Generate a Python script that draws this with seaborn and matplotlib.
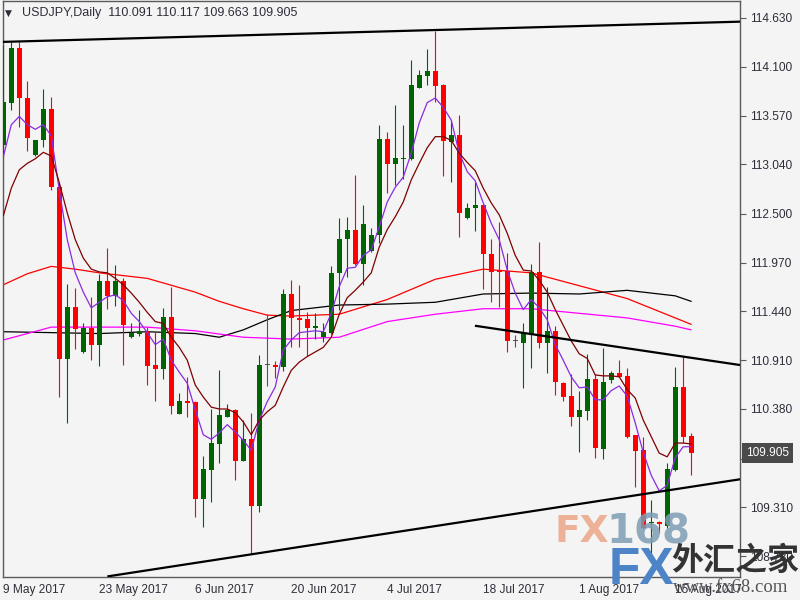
import matplotlib
matplotlib.use('Agg')
import matplotlib.pyplot as plt
import matplotlib.transforms as mtransforms
import numpy as np
import seaborn as sns

# USDJPY daily candles, bar 0 = 9 May 2017
opens = [113.250, 113.703, 114.307, 113.764, 113.141, 113.304, 113.641, 112.796, 110.920, 111.485,
         111.003, 111.260, 111.079, 111.771, 111.612, 111.771, 111.166, 111.198, 111.228, 110.858,
         110.818, 111.380, 110.329, 110.467, 110.453, 109.398, 109.720, 110.003, 110.296, 110.369,
         109.818, 110.054, 109.329, 110.858, 110.858, 110.840, 111.630, 111.366, 111.355, 111.264,
         111.159, 111.209, 111.858, 112.228, 112.326, 111.953, 112.101, 112.271, 113.315, 113.043,
         113.101, 113.097, 113.872, 114.003, 114.054, 113.902, 113.285, 113.358, 112.451, 112.562,
         112.594, 112.062, 111.888, 111.877, 111.122, 111.094, 111.192, 111.869, 111.101, 111.228,
         110.663, 110.521, 110.288, 110.355, 110.706, 109.949, 110.695, 110.775, 110.739, 110.097,
         109.934, 109.138, 109.155, 109.112, 109.717, 110.616, 110.091]
highs = [114.337, 114.372, 114.372, 113.945, 113.304, 113.855, 113.775, 112.840, 111.739, 111.692,
         111.312, 111.597, 111.847, 112.127, 111.945, 111.807, 111.312, 111.456, 111.275, 111.214,
         111.475, 111.709, 110.551, 110.731, 110.470, 109.869, 110.380, 110.804, 110.434, 110.380,
         110.260, 110.333, 110.967, 111.413, 110.902, 111.684, 111.782, 111.728, 111.434, 111.420,
         111.312, 111.934, 112.456, 112.470, 112.923, 112.597, 112.344, 113.467, 113.391, 113.684,
         113.467, 114.173, 114.065, 114.293, 114.489, 113.910, 113.521, 113.576, 112.619, 112.851,
         112.600, 112.225, 112.409, 112.072, 111.184, 111.318, 111.956, 112.192, 111.703, 111.282,
         110.670, 110.755, 110.581, 110.978, 110.758, 111.040, 110.796, 110.913, 110.822, 110.100,
         110.079, 109.391, 109.160, 109.796, 110.840, 110.948, 110.117]
lows = [113.119, 113.630, 113.448, 113.188, 113.130, 113.225, 112.760, 110.514, 110.225, 111.029,
        110.992, 110.913, 110.851, 111.464, 111.503, 110.858, 111.148, 111.177, 110.641, 110.470,
        110.703, 110.322, 110.329, 110.296, 109.209, 109.101, 109.366, 109.796, 110.290, 109.608,
        109.810, 108.801, 109.257, 110.633, 110.714, 110.796, 111.057, 111.057, 110.956, 111.138,
        111.112, 111.200, 111.456, 111.818, 111.945, 111.728, 112.090, 112.188, 112.725, 112.815,
        112.877, 113.090, 113.865, 113.902, 113.714, 112.916, 112.851, 112.246, 112.445, 112.318,
        111.681, 111.540, 111.485, 111.003, 111.057, 110.605, 110.822, 111.040, 110.768, 110.532,
        110.470, 110.198, 109.909, 110.264, 109.842, 109.833, 110.659, 110.725, 110.062, 109.535,
        109.080, 108.709, 109.029, 109.083, 109.710, 110.014, 109.663]
closes = [113.720, 114.307, 113.757, 113.329, 113.304, 113.641, 112.796, 110.920, 111.485, 111.253,
          111.260, 111.079, 111.771, 111.612, 111.771, 111.296, 111.209, 111.228, 110.851, 110.818,
          111.380, 110.416, 110.467, 110.445, 109.398, 109.728, 110.010, 110.315, 110.369, 109.818,
          110.054, 109.329, 110.858, 110.858, 110.833, 111.630, 111.366, 111.351, 111.264, 111.279,
          111.220, 111.858, 112.228, 112.326, 111.953, 112.391, 112.271, 113.315, 113.043, 113.112,
          113.112, 113.902, 114.010, 114.054, 113.894, 113.296, 113.358, 112.514, 112.562, 112.594,
          112.062, 111.872, 111.866, 111.116, 111.122, 111.203, 111.869, 111.101, 111.228, 110.677,
          110.514, 110.288, 110.369, 110.706, 109.951, 110.673, 110.775, 110.731, 110.079, 109.927,
          109.090, 109.152, 109.127, 109.728, 110.616, 110.079, 109.905]

# fast (purple) and medium (maroon) moving averages, one value per bar
ma_fast = [113.12, 113.47, 113.56, 113.47, 113.42, 113.47, 113.35, 112.76, 112.22, 111.86,
           111.65, 111.48, 111.54, 111.60, 111.62, 111.56, 111.42, 111.33, 111.21, 111.08,
           111.14, 110.91, 110.78, 110.66, 110.37, 110.10, 110.05, 110.12, 110.21, 110.13,
           110.04, 109.93, 110.26, 110.46, 110.62, 111.02, 111.13, 111.21, 111.22, 111.23,
           111.22, 111.42, 111.71, 111.91, 111.92, 112.05, 112.11, 112.36, 112.63, 112.79,
           112.90, 113.16, 113.49, 113.71, 113.76, 113.66, 113.52, 113.16, 112.96, 112.86,
           112.62, 112.40, 112.22, 111.89, 111.64, 111.46, 111.57, 111.48, 111.35, 111.08,
           110.91, 110.73, 110.61, 110.62, 110.48, 110.48, 110.58, 110.63, 110.52, 110.23,
           109.91, 109.66, 109.49, 109.55, 109.85, 109.97, 109.97]
ma_mid = [112.48, 112.78, 112.98, 113.05, 113.10, 113.17, 113.13, 112.84, 112.51, 112.22,
          112.02, 111.90, 111.87, 111.86, 111.80, 111.73, 111.64, 111.54, 111.43, 111.33,
          111.31, 111.16, 111.05, 110.91, 110.64, 110.51, 110.40, 110.38, 110.38, 110.34,
          110.24, 110.10, 110.26, 110.35, 110.42, 110.62, 110.80, 110.89, 110.95, 111.00,
          111.05, 111.16, 111.41, 111.59, 111.67, 111.76, 111.86, 112.14, 112.33, 112.47,
          112.63, 112.87, 113.05, 113.22, 113.34, 113.34, 113.30, 113.16, 113.06, 112.97,
          112.78, 112.62, 112.49, 112.29, 112.05, 111.89, 111.88, 111.78, 111.65, 111.46,
          111.29, 111.12, 110.98, 110.93, 110.75, 110.74, 110.74, 110.73, 110.59, 110.50,
          110.26, 110.08, 109.90, 109.86, 110.01, 110.01, 110.00]

# slow moving averages, sampled at a few bars
red_bars = [0, 3, 6, 9, 12, 18, 24, 27, 30, 33, 36, 42, 48, 54, 60, 66, 72, 78, 84, 86]
ma_red = [111.73, 111.85, 111.93, 111.90, 111.86, 111.80, 111.65, 111.55, 111.47, 111.40,
          111.39, 111.41, 111.57, 111.79, 111.90, 111.86, 111.72, 111.58, 111.37, 111.30]
black_bars = [0, 6, 12, 18, 24, 27, 30, 33, 36, 42, 48, 54, 60, 66, 72, 78, 84, 86]
ma_black = [111.22, 111.21, 111.20, 111.22, 111.20, 111.16, 111.24, 111.35, 111.45, 111.51,
            111.52, 111.54, 111.63, 111.64, 111.63, 111.67, 111.61, 111.55]
magenta_bars = [0, 3, 6, 12, 18, 24, 30, 36, 42, 48, 54, 60, 66, 72, 78, 84, 86]
ma_magenta = [111.13, 111.20, 111.27, 111.27, 111.27, 111.23, 111.16, 111.14, 111.16, 111.33,
              111.41, 111.47, 111.47, 111.42, 111.37, 111.28, 111.24]

# hand drawn trend lines: (bar, price) end points
top_line_bars = [-0.1, 92.1]
top_line_prices = [114.37, 114.59]
support_bars = [13.0, 92.1]
support_prices = [108.56, 109.616]
resist_bars = [58.96, 92.1]
resist_prices = [111.285, 110.858]

date_ticks = [0, 12, 24, 36, 48, 60, 72, 84]
date_labels = ['9 May 2017', '23 May 2017', '6 Jun 2017', '20 Jun 2017',
               '4 Jul 2017', '18 Jul 2017', '1 Aug 2017', '15 Aug 2017']
price_ticks = [114.630, 114.100, 113.570, 113.040, 112.500, 111.970,
               111.440, 110.910, 110.380, 109.840, 109.310, 108.780]

bg = '#f4f4f4'
sns.set_style('white', rc={'axes.facecolor': bg, 'figure.facecolor': bg,
                           'axes.edgecolor': '#5a5a5a'})
plt.rcParams['font.family'] = ['Liberation Sans', 'DejaVu Sans']

fig = plt.figure(figsize=(8, 6), dpi=100)
ax = fig.add_axes([2.5 / 800, 23 / 600, 737.5 / 800, 576.5 / 600])

bars = np.arange(len(opens))
o = np.array(opens)
c = np.array(closes)
cols = np.where(c > o, '#006400', np.where(c < o, '#ff0000', '#555555'))

# candles
ax.vlines(bars, lows, highs, colors=cols, lw=0.8, zorder=3)
body_lo = np.minimum(o, c)
body_h = np.maximum(np.abs(c - o), 0.012)
ax.bar(bars, body_h, bottom=body_lo, width=0.62, color=cols, linewidth=0, zorder=4)

# moving averages
sns.lineplot(x=bars, y=ma_fast, color='#8a2be2', lw=0.9, ax=ax, zorder=5)
sns.lineplot(x=bars, y=ma_mid, color='#800000', lw=0.9, ax=ax, zorder=5)
sns.lineplot(x=red_bars, y=ma_red, color='#ff0000', lw=0.9, ax=ax, zorder=2)
sns.lineplot(x=black_bars, y=ma_black, color='#000000', lw=0.9, ax=ax, zorder=2)
sns.lineplot(x=magenta_bars, y=ma_magenta, color='#ff00ff', lw=0.9, ax=ax, zorder=2)

# trend lines
for xs, ys in [(top_line_bars, top_line_prices), (support_bars, support_prices),
               (resist_bars, resist_prices)]:
    ax.plot(xs, ys, color='black', lw=1.6, zorder=6, solid_capstyle='butt')

ax.set_xlim(-0.1, 92.1)
ax.set_ylim(108.554, 114.820)

ax.yaxis.tick_right()
ax.set_yticks(price_ticks)
ax.set_yticklabels([f'{p:.3f}' for p in price_ticks])
ax.set_xticks(date_ticks)
ax.set_xticklabels(date_labels, ha='left')
ax.tick_params(axis='both', direction='out', colors='#5a5a5a', labelcolor='#2e2e3a',
               labelsize=8.6, width=0.8)
ax.tick_params(axis='y', length=4, pad=3)
ax.tick_params(axis='x', length=3, pad=2)
ax.set_xlabel('')
ax.set_ylabel('')
for s in ax.spines.values():
    s.set_linewidth(1.0)

# current price box
trans = mtransforms.blended_transform_factory(ax.transAxes, ax.transData)
ax.text(1.0 + 6 / 737.5, closes[-1], f'{closes[-1]:.3f}', transform=trans,
        va='center', ha='left', color='white', fontsize=8.6, clip_on=False, zorder=10,
        bbox=dict(boxstyle='square,pad=0.35', fc='#4a4a4a', ec='none'))

# header
ax.text(0.004, 0.985, '\u25bc', transform=ax.transAxes, fontsize=6.5, color='#2e2e3a',
        va='top', ha='left', family=['DejaVu Sans'])
ax.text(0.026, 0.989, 'USDJPY,Daily  %.3f %.3f %.3f %.3f'
        % (opens[-1], highs[-1], lows[-1], closes[-1]),
        transform=ax.transAxes, fontsize=9, color='#2e2e3a', va='top', ha='left')

# watermark
fig.text(555 / 800, 1 - 532 / 600, 'FX', fontsize=27, fontweight='bold', color='#eba07f',
         alpha=0.8, va='center', ha='left', family=['DejaVu Sans'])
fig.text(606 / 800, 1 - 532 / 600, '168', fontsize=29, fontweight='bold', color='#7d9db4',
         alpha=0.85, va='center', ha='left', family=['DejaVu Sans'])
fig.text(609 / 800, 1 - 571 / 600, 'FX', fontsize=37, fontweight='bold', color='#4d84c8',
         va='center', ha='left')
fig.text(671 / 800, 1 - 561 / 600, '外汇之家', fontsize=23, fontweight='bold', color='#333333',
         va='center', ha='left', family=['Noto Sans CJK SC', 'DejaVu Sans'])
fig.text(673 / 800, 1 - 588 / 600, 'www.fx68.com', fontsize=13.5, color='#555555',
         va='center', ha='left', family=['Liberation Serif', 'DejaVu Serif'])

fig.savefig('out.png', dpi=100, facecolor=bg)
